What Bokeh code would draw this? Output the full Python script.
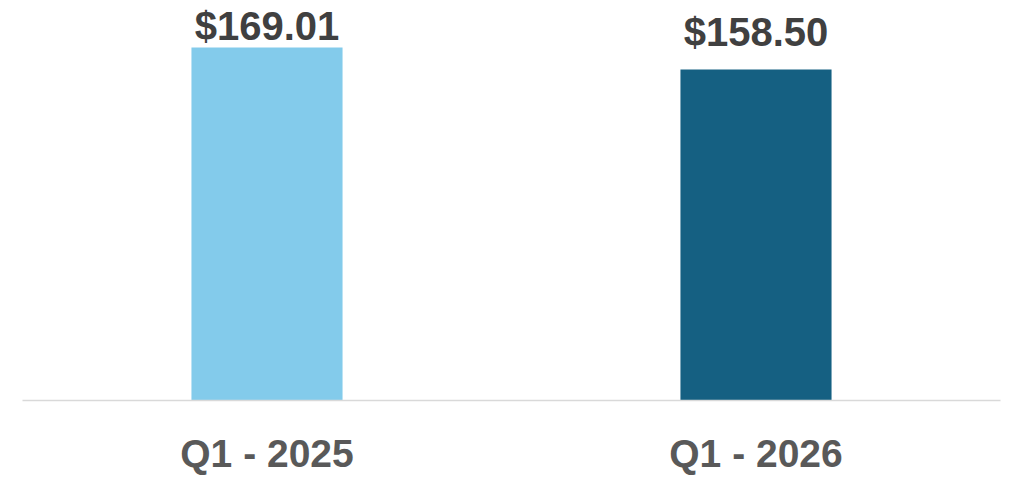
from bokeh.plotting import figure
from bokeh.models import ColumnDataSource, Range1d, FactorRange
from bokeh.core.properties import value
from bokeh.embed import file_html
from bokeh.resources import INLINE

categories = ["Q1 - 2025", "Q1 - 2026"]
amounts = [169.01, 158.50]
labels = ["$169.01", "$158.50"]
colors = ["#83CBEB", "#156082"]
label_offsets = [0, 15]

src = ColumnDataSource(dict(cat=categories, val=amounts, lab=labels, col=colors,
                            off=[-o for o in label_offsets]))

p = figure(x_range=FactorRange(*categories), y_range=Range1d(0, 187.7),
           width=1016, height=485, output_backend="svg", toolbar_location=None,
           min_border_left=22, min_border_right=16, min_border_top=8, min_border_bottom=85)

p.vbar(x="cat", top="val", width=0.309, color="col", source=src, line_color=None)
p.text(x="cat", y="val", text="lab", source=src, y_offset="off",
       text_align="center", text_baseline="bottom",
       text_font=value("Liberation Sans"), text_font_style="bold",
       text_font_size="40px", text_color="#404040")

p.yaxis.visible = False
p.xgrid.visible = False
p.ygrid.visible = False
p.outline_line_color = None
p.xaxis.axis_line_color = "#D9D9D9"
p.xaxis.axis_line_width = 1.5
p.xaxis.major_tick_line_color = None
p.xaxis.minor_tick_line_color = None
p.xaxis.major_label_text_font = "Liberation Sans"
p.xaxis.major_label_text_font_style = "bold"
p.xaxis.major_label_text_font_size = "39px"
p.xaxis.major_label_text_color = "#595959"
p.xaxis.major_label_standoff = 25

open("out.html", "w").write(file_html(p, INLINE))
